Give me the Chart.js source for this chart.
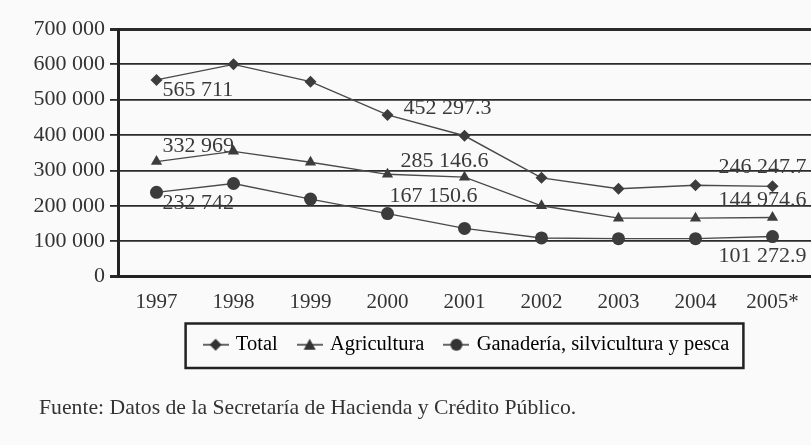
<!DOCTYPE html>
<html>
<head>
<meta charset="utf-8">
<script src="https://cdn.jsdelivr.net/npm/chart.js@4.4.0/dist/chart.umd.min.js"></script>
<style>
  body { margin: 0; background: #fafafa; }
  #wrap { position: relative; width: 811px; height: 445px; }
  #fuente { position: absolute; left: 39px; top: 395px; font: 21.7px "Liberation Serif", serif; color: #333; white-space: nowrap; }
</style>
</head>
<body>
<div id="wrap">
  <canvas id="chart" width="811" height="445"></canvas>
  <div id="fuente">Fuente: Datos de la Secretaría de Hacienda y Crédito Público.</div>
</div>
<script>
// Data
const years = ['1997', '1998', '1999', '2000', '2001', '2002', '2003', '2004', '2005*'];
const total = [556000, 600000, 551000, 457000, 398000, 279000, 248000, 258000, 255000];
const agricultura = [325000, 354000, 323000, 289000, 281000, 200000, 165000, 165000, 167000];
const ganaderia = [238000, 263000, 219000, 178000, 136000, 109000, 107000, 107000, 113000];

// Printed value labels
const totalLabels = ['565 711', '', '', '452 297.3', '', '', '', '', '246 247.7'];
const agriculturaLabels = ['332 969', '', '', '285 146.6', '', '', '', '', '144 974.6'];
const ganaderiaLabels = ['232 742', '', '', '167 150.6', '', '', '', '', '101 272.9'];

const yMax = 700000;
const yStep = 100000;

const ink = '#333';
const serif = '"Liberation Serif", "DejaVu Serif", serif';

// label offsets from each point: [dx, dy, align]
const labelOffsets = [
  { 0: [6, 10, 'left'], 3: [16, -7, 'left'], 8: [34, -19, 'right'] },
  { 0: [6, -15, 'left'], 3: [13, -13, 'left'], 8: [34, -17, 'right'] },
  { 0: [6, 11, 'left'], 3: [2, -17, 'left'], 8: [34, 20, 'right'] }
];

// small icons for the legend: line with marker
function legendIcon(style) {
  const c = document.createElement('canvas');
  c.width = 26;
  c.height = 16;
  const g = c.getContext('2d');
  g.strokeStyle = ink;
  g.lineWidth = 1.5;
  g.beginPath();
  g.moveTo(0, 8);
  g.lineTo(26, 8);
  g.stroke();
  g.fillStyle = ink;
  g.beginPath();
  if (style === 'rectRot') {
    g.moveTo(13, 2); g.lineTo(19, 8); g.lineTo(13, 14); g.lineTo(7, 8);
  } else if (style === 'triangle') {
    g.moveTo(13, 2); g.lineTo(19, 13); g.lineTo(7, 13);
  } else {
    g.arc(13, 8, 6, 0, Math.PI * 2);
  }
  g.closePath();
  g.fill();
  return c;
}

function fmt(v) {
  return v.toString().replace(/\B(?=(\d{3})+(?!\d))/g, ' ');
}

const pointLabels = {
  id: 'pointLabels',
  afterDatasetsDraw(chart) {
    const ctx = chart.ctx;
    ctx.save();
    ctx.font = '22px ' + serif;
    ctx.fillStyle = '#3a3a3a';
    ctx.textBaseline = 'middle';
    chart.data.datasets.forEach((ds, i) => {
      const meta = chart.getDatasetMeta(i);
      ds.valueLabels.forEach((txt, j) => {
        if (!txt) return;
        const p = meta.data[j];
        const off = labelOffsets[i][j];
        ctx.textAlign = off[2];
        ctx.fillText(txt, p.x + off[0], p.y + off[1]);
      });
    });
    ctx.restore();
  }
};

// legend sits right of centre in the original, with a frame round it
const legendShift = 62;
const legendBox = {
  id: 'legendBox',
  afterLayout(chart) {
    chart.legend.left += legendShift;
    chart.legend.right += legendShift;
  },
  afterDraw(chart) {
    const lg = chart.legend;
    if (!lg || !lg.legendHitBoxes.length) return;
    const boxes = lg.legendHitBoxes;
    const left = Math.min(...boxes.map(b => b.left)) - 20;
    const right = Math.max(...boxes.map(b => b.left + b.width)) + 14;
    const top = Math.min(...boxes.map(b => b.top)) - 11;
    const bottom = Math.max(...boxes.map(b => b.top + b.height)) + 13;
    const ctx = chart.ctx;
    ctx.save();
    ctx.strokeStyle = '#222';
    ctx.lineWidth = 2.5;
    ctx.strokeRect(left, top, right - left, bottom - top);
    ctx.restore();
  }
};

const styles = ['rectRot', 'triangle', 'circle'];

const ctx = document.getElementById('chart').getContext('2d');
const chart = new Chart(ctx, {
  type: 'line',
  data: {
    labels: years,
    datasets: [{
      label: 'Total',
      data: total,
      valueLabels: totalLabels,
      borderColor: '#4a4a4a',
      backgroundColor: '#3c3c3c',
      borderWidth: 1.4,
      pointStyle: 'rectRot',
      pointRadius: 6,
      pointBorderWidth: 0
    }, {
      label: 'Agricultura',
      data: agricultura,
      valueLabels: agriculturaLabels,
      borderColor: '#4a4a4a',
      backgroundColor: '#3c3c3c',
      borderWidth: 1.4,
      pointStyle: 'triangle',
      pointRadius: 6.5,
      pointBorderWidth: 0
    }, {
      label: 'Ganadería, silvicultura y pesca',
      data: ganaderia,
      valueLabels: ganaderiaLabels,
      borderColor: '#4a4a4a',
      backgroundColor: '#3c3c3c',
      borderWidth: 1.4,
      pointStyle: 'circle',
      pointRadius: 6.5,
      pointBorderWidth: 0
    }]
  },
  options: {
    responsive: false,
    animation: false,
    layout: { autoPadding: false, padding: { top: 29, left: 0, right: 0, bottom: 80 } },
    plugins: {
      tooltip: { enabled: false },
      legend: {
        position: 'bottom',
        labels: {
          usePointStyle: true,
          pointStyleWidth: 20,
          padding: 22,
          color: ink,
          font: { family: serif, size: 20.5 },
          generateLabels: (chart) => chart.data.datasets.map((ds, i) => ({
            text: ds.label,
            pointStyle: legendIcon(styles[i]),
            fillStyle: ink,
            strokeStyle: ink,
            lineWidth: 0,
            hidden: false,
            datasetIndex: i
          }))
        }
      }
    },
    scales: {
      x: {
        offset: true,
        grid: { display: false },
        border: { display: true, color: '#222', width: 3 },
        ticks: { color: ink, padding: 5, font: { family: serif, size: 21 } },
        afterFit: (scale) => {
          scale.height = 36;
          scale.paddingLeft = 0;
          scale.paddingRight = 0;
        }
      },
      y: {
        min: 0,
        max: yMax,
        afterFit: (scale) => { scale.width = 118; },
        ticks: {
          stepSize: yStep,
          color: ink,
          padding: 5,
          font: { family: serif, size: 22 },
          callback: (v) => fmt(v)
        },
        grid: {
          color: '#2a2a2a',
          lineWidth: (c) => (c.tick && (c.tick.value === yMax || c.tick.value === 0)) ? 3 : 1.8,
          tickLength: 8
        },
        border: { display: true, color: '#222', width: 3 }
      }
    }
  },
  plugins: [pointLabels, legendBox]
});
</script>
</body>
</html>
